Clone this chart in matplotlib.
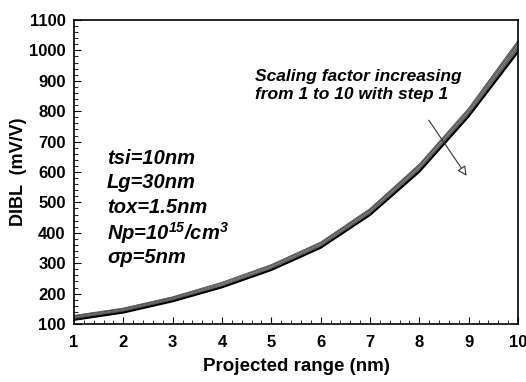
import matplotlib
matplotlib.use('Agg')
import matplotlib.pyplot as plt
from matplotlib.ticker import MultipleLocator

plt.rcParams['font.family'] = ['Liberation Sans', 'DejaVu Sans']
plt.rcParams['mathtext.fontset'] = 'custom'
plt.rcParams['mathtext.it'] = 'Liberation Sans:italic:bold'
plt.rcParams['mathtext.rm'] = 'Liberation Sans:italic:bold'
plt.rcParams['mathtext.default'] = 'it'

projected_range = [1, 2, 3, 4, 5, 6, 7, 8, 9, 10]

# DIBL (mV/V) for scaling factor 1..10
dibl_s1 = [127, 151, 188, 236, 294, 368, 478, 624, 808, 1030]
dibl_s2 = [125, 149, 186, 234, 292, 366, 476, 621, 805, 1026]
dibl_s3 = [124, 148, 185, 232, 290, 364, 474, 619, 802, 1022]
dibl_s4 = [122, 146, 183, 231, 288, 362, 471, 616, 799, 1018]
dibl_s5 = [121, 145, 182, 229, 286, 360, 469, 613, 796, 1014]
dibl_s6 = [119, 143, 180, 227, 285, 358, 467, 611, 794, 1010]
dibl_s7 = [118, 142, 179, 225, 283, 356, 465, 608, 791, 1006]
dibl_s8 = [116, 140, 177, 224, 281, 354, 463, 605, 788, 1002]
dibl_s9 = [115, 139, 176, 222, 279, 352, 460, 603, 785, 998]
dibl_s10 = [113, 137, 174, 220, 277, 350, 458, 600, 782, 994]

series = [dibl_s1, dibl_s2, dibl_s3, dibl_s4, dibl_s5,
          dibl_s6, dibl_s7, dibl_s8, dibl_s9, dibl_s10]
line_colors = ['#404040', '#909090', '#303030', '#a0a0a0', '#505050',
               '#909090', '#404040', '#808080', '#202020', '#000000']

fig = plt.figure(figsize=(5.26, 3.82), dpi=100)
ax = fig.add_axes([0.1407, 0.1518, 0.8441, 0.7958])

for s, c in zip(series, line_colors):
    ax.plot(projected_range, s, color=c, lw=1.2)

ax.set_xlim(1, 10)
ax.set_ylim(100, 1100)
ax.xaxis.set_major_locator(MultipleLocator(1))
ax.xaxis.set_minor_locator(MultipleLocator(0.2))
ax.yaxis.set_major_locator(MultipleLocator(100))
ax.yaxis.set_minor_locator(MultipleLocator(20))
ax.tick_params(which='both', direction='in', top=False, right=False)
ax.tick_params(which='major', length=5, labelsize=12)
ax.tick_params(axis='x', which='major', pad=8)
ax.tick_params(axis='y', which='major', pad=6)
ax.tick_params(which='minor', length=3)
for lab in ax.get_xticklabels() + ax.get_yticklabels():
    lab.set_fontweight('bold')
for sp in ax.spines.values():
    sp.set_linewidth(1.2)

ax.set_xlabel('Projected range (nm)', fontsize=13.5, fontweight='bold', labelpad=6)
ax.set_ylabel('DIBL  (mV/V)', fontsize=13, fontweight='bold')
ax.yaxis.set_label_coords(-0.105, 0.5)

params = ['tsi=10nm', 'Lg=30nm', 'tox=1.5nm',
          r'Np=10$^{15}$/cm$^{3}$', '\u03c3p=5nm']
for k, t in enumerate(params):
    ax.text(1.67, 646 - k * 82, t, fontsize=14.5, fontweight='bold',
            style='italic', va='center', ha='left')

ax.text(4.66, 885, 'Scaling factor increasing\nfrom 1 to 10 with step 1',
        fontsize=12.5, fontweight='bold', style='italic', va='center',
        ha='left', linespacing=1.2)
ax.annotate('', xy=(8.99, 580), xytext=(8.16, 778),
            arrowprops=dict(arrowstyle='-|>', color='#333333', lw=0.8,
                            fc='white', mutation_scale=14))

fig.savefig('out.png', dpi=100)
